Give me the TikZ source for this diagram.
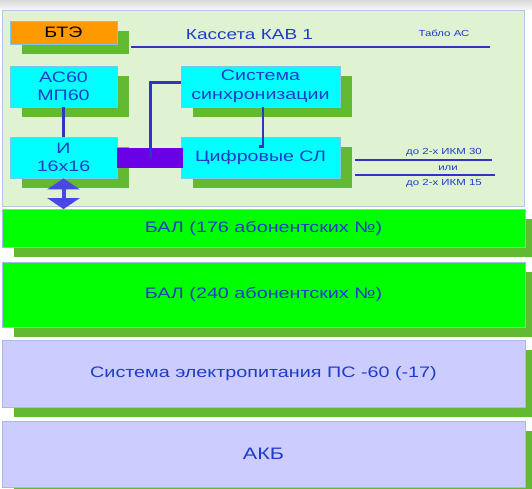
\documentclass[tikz,border=0pt]{standalone}
\usepackage{fontspec}
\setmainfont{Liberation Sans}[FakeStretch=1.3]
\usepackage{xcolor}
\usetikzlibrary{arrows.meta,positioning,calc,shadows}
\definecolor{inkblue}{HTML}{1E3CC8}
\definecolor{linkblue}{HTML}{3434C4}
\definecolor{arrowblue}{HTML}{4848E6}
\definecolor{busviolet}{HTML}{6A00E6}
\definecolor{kavgreen}{HTML}{DFF3D3}
\definecolor{kavedge}{HTML}{B4C8E6}
\definecolor{leafgreen}{HTML}{62BA32}
\definecolor{unitcyan}{HTML}{00FFFF}
\definecolor{cyanedge}{HTML}{7CC8EC}
\definecolor{btorange}{HTML}{FF9900}
\definecolor{balgreen}{HTML}{00FF00}
\definecolor{powerlilac}{HTML}{CCCCFF}
\definecolor{layeredge}{HTML}{A8B8E8}

\begin{document}
\begin{tikzpicture}[x=1pt,y=-1pt,
  panel/.style={draw=cyanedge,fill=unitcyan,line width=0.8pt,inner sep=0pt,
    align=center,text=inkblue,font=\fontsize{15.1}{18.5}\selectfont,
    drop shadow={shadow xshift=12pt,shadow yshift=-10pt,fill=leafgreen,
      opacity=1}},
  smallpanel/.style={panel,minimum width=107pt,minimum height=41pt},
  widepanel/.style={panel,minimum width=159pt,minimum height=41pt},
  layer/.style={draw=layeredge,line width=0.8pt,inner sep=0pt,
    minimum width=523pt,text=inkblue,font=\fontsize{15.2}{17}\selectfont,
    drop shadow={shadow xshift=12pt,shadow yshift=-9.5pt,fill=leafgreen,
      opacity=1}},
  link/.style={draw=linkblue,line width=3pt},
  thinlink/.style={draw=linkblue,line width=2.5pt},
  note/.style={text=inkblue,font=\fontsize{8.8}{10}\selectfont,inner sep=1pt},
  updown/.style={draw=arrowblue,line width=4pt,
    {Triangle[width=32pt,length=11pt]}-{Triangle[width=32pt,length=11pt]}}
]
  \useasboundingbox (0,0) rectangle (532,488);
  \shade[top color=gray!30,bottom color=gray!8] (0,0) rectangle (532,9);

  % cassette
  \node[draw=kavedge,fill=kavgreen,line width=0.8pt,inner sep=0pt,
    minimum width=522pt,minimum height=196pt] (kav) at (263,108) {};
  \node[text=inkblue,font=\fontsize{14.6}{16}\selectfont] (title)
    at (249.5,35) {Кассета КАВ 1};
  \node[note] (tablo) at (444,33) {Табло АС};
  \coordinate (tabloend) at (490,47);

  \node[smallpanel,fill=btorange,minimum height=23pt,text=black] (bte)
    at (63.5,32.5) {БТЭ};
  \node[smallpanel] (ac) at (63.5,86.5) {АС60\\МП60};
  \node[smallpanel] (io) at (63.5,157.5) {И\\16x16};
  \node[widepanel] (sync) at (260.5,86.5) {Система\\синхронизации};
  \node[widepanel] (dsl) at (260.5,157.5) {Цифровые СЛ};
  \node[fill=busviolet,inner sep=0pt,minimum width=66pt,
    minimum height=20pt] (bus) at (150,158) {};

  \draw[thinlink] ([xshift=14pt]bte.east |- tabloend) -- (tabloend);
  \draw[link] (ac.south) -- (io.north);
  \draw[link] (bus.center) |- ([yshift=4pt]sync.west);
  \draw[thinlink] ([xshift=2.5pt]sync.south) -- ++(0,39) -- ++(-4,0);

  % trunk lines
  \coordinate (ikm30end) at (492,160);
  \coordinate (ikm15end) at (495,175);
  \draw[thinlink] ([xshift=15pt]dsl.east |- ikm30end) -- (ikm30end);
  \draw[thinlink] ([xshift=15pt]dsl.east |- ikm15end) -- (ikm15end);
  \node[note] (ikm30) at (444,152) {до 2-х ИКМ 30};
  \node[note] (ili) at (448,168) {или};
  \node[note] (ikm15) at (444,183) {до 2-х ИКМ 15};

  % lower layers
  \node[layer,fill=balgreen,minimum height=38pt] (bal1) at (263.5,228.5)
    {БАЛ (176 абонентских №)};
  \node[layer,fill=balgreen,minimum height=65pt] (bal2) at (263.5,294.5)
    {БАЛ (240 абонентских №)};
  \node[layer,fill=powerlilac,minimum height=67pt] (power) at (263.5,373.5)
    {Система электропитания ПС -60 (-17)};
  \node[layer,fill=powerlilac,minimum height=65.5pt,
    font=\fontsize{16.6}{18}\selectfont] (akb) at (263.5,454.2) {АКБ};

  \draw[updown] (io.south) -- (io.south |- bal1.north);
\end{tikzpicture}
\end{document}
